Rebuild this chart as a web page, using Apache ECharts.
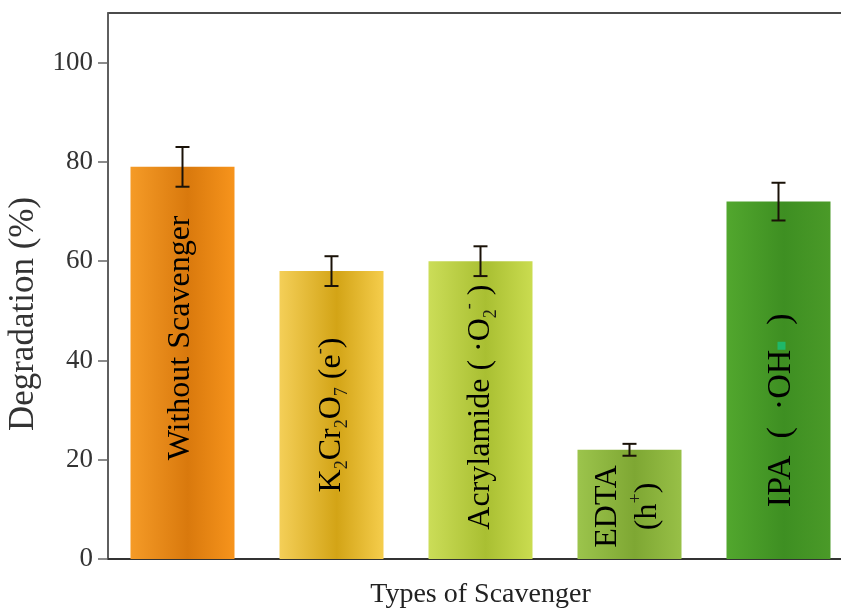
<!DOCTYPE html>
<html>
<head>
<meta charset="utf-8">
<script src="https://cdn.jsdelivr.net/npm/echarts@6/dist/echarts.min.js"></script>
<style>
  html, body { margin: 0; padding: 0; background: #fff; }
  #chart { width: 841px; height: 610px; }
</style>
</head>
<body>
<div id="chart"></div>
<script>
// Scavenger trapping experiment: degradation with each scavenger added
const categories = ['Without Scavenger', 'K2Cr2O7 (e-)', 'Acrylamide (·O2-)', 'EDTA (h+)', 'IPA (·OH-)'];
const degradation = [79, 58, 60, 22, 72];
const errors = [4, 3, 3, 1.2, 3.8];
const yTicks = [0, 20, 40, 60, 80, 100];

// In-bar labels written with rich-text sub/superscripts
const barLabels = [
  '{m|Without Scavenger}',
  '{m|K}{sub|2}{m|Cr}{sub|2}{m|O}{sub|7}{m| (e}{sup|-}{m|)}',
  '{m|Acrylamide ( ·O}{sub|2}{sup|-}{m| )}',
  '{m|EDTA}\n{m|(h}{sup|+}{m|)}',
  '{w|IPA  (  ·OH}{dot|}{w|  )}'
];

// Horizontal shading for each bar: [edge, dark band, edge]
const barShades = [
  ['#f59b27', '#d9790d', '#f7941c'],
  ['#f4cf58', '#d3a416', '#f5cd4c'],
  ['#cbdd58', '#a9bf32', '#cadc50'],
  ['#9cc44c', '#7ea733', '#98c047'],
  ['#52a72e', '#3e8f22', '#4a9a28']
];
// Label offsets in the rotated text frame: [along text (up), across text (right)]
const labelShift = [[25, -2], [0, 0], [3, 0], [-2, -2], [-30, 3]];

const serif = '"Liberation Serif", "DejaVu Serif", serif';

const chart = echarts.init(document.getElementById('chart'));

const barData = degradation.map((v, i) => ({
  value: v,
  itemStyle: {
    color: new echarts.graphic.LinearGradient(0, 0, 1, 0, [
      { offset: 0, color: barShades[i][0] },
      { offset: 0.55, color: barShades[i][1] },
      { offset: 1, color: barShades[i][2] }
    ])
  },
  label: {
    formatter: barLabels[i],
    offset: labelShift[i],
    color: i === 0 ? '#3b1f08' : '#1c1c14'
  }
}));

chart.setOption({
  animation: false,
  backgroundColor: '#ffffff',
  grid: {
    left: 108, top: 13, width: 745, bottom: 51,
    outerBoundsMode: 'none',
    containLabel: false,
    show: true, borderColor: '#111', borderWidth: 1.5, backgroundColor: 'transparent'
  },
  xAxis: {
    type: 'category',
    data: categories,
    name: 'Types of Scavenger',
    nameLocation: 'middle',
    nameGap: 22,
    nameTextStyle: { fontFamily: serif, fontSize: 28, color: '#222' },
    axisLine: { lineStyle: { color: '#333', width: 2 } },
    axisTick: { show: false },
    axisLabel: { show: false }
  },
  yAxis: {
    type: 'value',
    min: 0, max: 110, interval: 20,
    name: 'Degradation (%)',
    nameLocation: 'middle',
    nameGap: 66,
    nameTextStyle: { fontFamily: serif, fontSize: 35, color: '#333', padding: [0, 56, 0, 0] },
    splitLine: { show: false },
    axisLine: { show: true, lineStyle: { color: '#666', width: 1.5 } },
    axisTick: { show: true, length: 10, customValues: yTicks, lineStyle: { color: '#666', width: 1.5 } },
    axisLabel: { customValues: yTicks, fontFamily: serif, fontSize: 27, color: '#333', margin: 15 }
  },
  series: [
    {
      type: 'bar',
      data: barData,
      barWidth: 104,
      label: {
        show: true,
        position: 'inside',
        rotate: 90,
        align: 'center',
        verticalAlign: 'middle',
        fontFamily: serif,
        lineHeight: 40,
        rich: {
          m: { fontFamily: serif, fontSize: 32, lineHeight: 40, color: 'inherit' },
          w: { fontFamily: serif, fontSize: 34, lineHeight: 40, color: 'inherit' },
          sub: { fontFamily: serif, fontSize: 18, lineHeight: 27, verticalAlign: 'bottom' },
          sup: { fontFamily: serif, fontSize: 18, lineHeight: 36, verticalAlign: 'top' },
          dot: { width: 8, height: 8, backgroundColor: '#1fb86a', verticalAlign: 'middle', lineHeight: 20 }
        }
      }
    },
    {
      type: 'custom',
      data: degradation.map((v, i) => [i, v, errors[i]]),
      z: 10,
      renderItem: function (params, api) {
        const x = api.value(0);
        const top = api.coord([x, api.value(1) + api.value(2)]);
        const bot = api.coord([x, api.value(1) - api.value(2)]);
        const half = 7;
        const style = { stroke: '#1a1208', lineWidth: 2 };
        return {
          type: 'group',
          children: [
            { type: 'line', shape: { x1: top[0], y1: top[1], x2: bot[0], y2: bot[1] }, style: style },
            { type: 'line', shape: { x1: top[0] - half, y1: top[1], x2: top[0] + half, y2: top[1] }, style: style },
            { type: 'line', shape: { x1: bot[0] - half, y1: bot[1], x2: bot[0] + half, y2: bot[1] }, style: style }
          ]
        };
      }
    }
  ]
});
</script>
</body>
</html>
